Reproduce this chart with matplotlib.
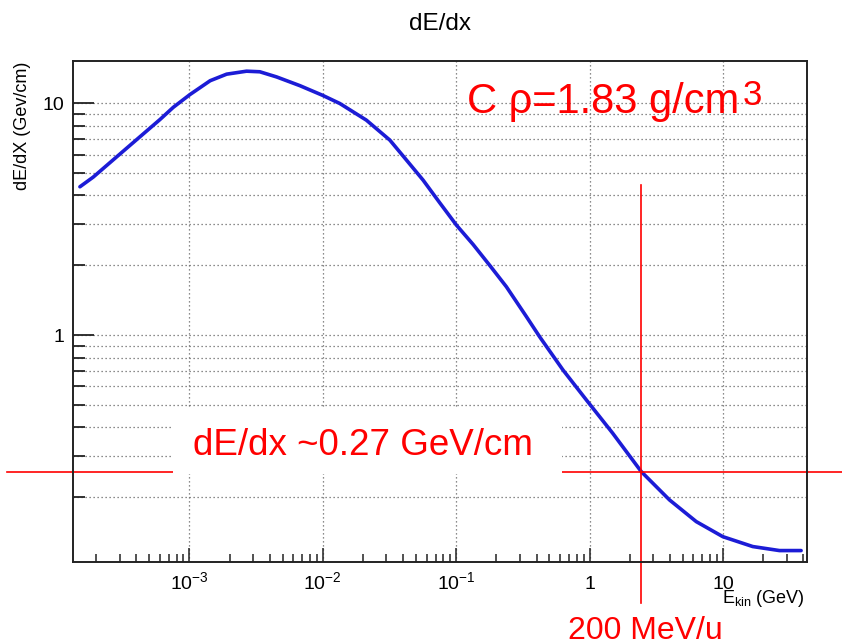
"""dE/dx of carbon (rho = 1.83 g/cm^3) versus kinetic energy, ROOT-style log-log plot."""
import matplotlib

matplotlib.use("Agg")
import matplotlib.pyplot as plt
import matplotlib.transforms as mtransforms
from matplotlib.patches import Rectangle
from matplotlib.ticker import LogLocator, NullFormatter
import numpy as np

plt.rcParams["font.family"] = ["Liberation Sans", "DejaVu Sans"]
plt.rcParams["mathtext.default"] = "regular"

# ---------------------------------------------------------------------------
# data
# ---------------------------------------------------------------------------
energy_gev = [1.51e-4, 1.90e-4, 3.39e-4, 6.01e-4, 7.57e-4, 1.01e-3, 1.43e-3,
              1.90e-3, 2.68e-3, 3.37e-3, 4.5e-3, 6.73e-3, 1.0e-2, 1.34e-2,
              2.12e-2, 3.18e-2, 4.24e-2, 5.64e-2, 7.52e-2, 0.1003, 0.1337,
              0.178, 0.2377, 0.336, 0.422, 0.631, 0.945, 1.49, 2.44, 3.97,
              6.3, 9.97, 16.7, 26.5, 38.5]
dedx_gev_cm = [4.36, 4.8, 6.4, 8.5, 9.6, 10.9, 12.5,
               13.34, 13.74, 13.66, 12.98, 11.9, 10.8, 9.97,
               8.45, 6.93, 5.68, 4.66, 3.72, 2.98, 2.46,
               2.00, 1.615, 1.20, 0.983, 0.707, 0.525, 0.377, 0.2575, 0.1945,
               0.1568, 0.135, 0.1224, 0.1176, 0.1176]

xtick_vals = [1e-3, 1e-2, 1e-1, 1, 10]
xtick_labels = ["$10^{-3}$", "$10^{-2}$", "$10^{-1}$", "1", "10"]
ytick_vals = [1, 10]
ytick_labels = ["1", "10"]

marker_energy = 2.44      # 200 MeV/u carbon -> ~2.4 GeV total
marker_dedx = 0.2575      # ~0.27 GeV/cm read-off

XLIM = (1.34e-4, 42.6)
YLIM = (0.105, 15.2)

# ---------------------------------------------------------------------------
# figure
# ---------------------------------------------------------------------------
fig = plt.figure(figsize=(8.42, 6.43), dpi=100)
ax = fig.add_axes([0.0867, 0.1260, 0.8717, 0.7791])
ax.set_xscale("log")
ax.set_yscale("log")
ax.set_xlim(*XLIM)
ax.set_ylim(*YLIM)

ax.plot(energy_gev, dedx_gev_cm, color="#1c1cd6", linewidth=2.6,
        solid_capstyle="round", solid_joinstyle="round", zorder=2.2)

# ticks + grid (ROOT look: ticks inside, only bottom/left)
ax.set_xticks(xtick_vals, xtick_labels)
ax.set_yticks(ytick_vals, ytick_labels)
ax.xaxis.set_minor_locator(LogLocator(base=10, subs=np.arange(2, 10), numticks=30))
ax.yaxis.set_minor_locator(LogLocator(base=10, subs=np.arange(2, 10), numticks=30))
ax.xaxis.set_minor_formatter(NullFormatter())
ax.yaxis.set_minor_formatter(NullFormatter())
ax.tick_params(which="both", direction="in", top=False, right=False,
               color="#222222", labelsize=14)
ax.tick_params(axis="x", which="major", length=10, width=1.1, pad=19.4)
ax.tick_params(axis="x", which="minor", length=5.8, width=1.1)
ax.tick_params(axis="y", which="major", length=15, width=1.3, pad=6)
ax.tick_params(axis="y", which="minor", length=8.5, width=1.3)
for lbl in ax.get_xticklabels():
    lbl.set_verticalalignment("baseline")

grid_kw = dict(color="#666666", linewidth=0.9, linestyle=(0, (1, 2.2)))
ax.grid(True, which="major", axis="both", **grid_kw)
ax.grid(True, which="minor", axis="y", **grid_kw)

for sp in ax.spines.values():
    sp.set_color("#222222")
    sp.set_linewidth(1.4)

# red guide lines, they run past the frame
vtrans = mtransforms.blended_transform_factory(ax.transData, ax.transAxes)
htrans = mtransforms.blended_transform_factory(ax.transAxes, ax.transData)
ax.plot([marker_energy, marker_energy], [0.7525, -0.0818], transform=vtrans,
        color="#ff0000", linewidth=1.2, clip_on=False, zorder=2.5)
ax.plot([-0.0899, 1.05], [marker_dedx, marker_dedx], transform=htrans,
        color="#ff0000", linewidth=1.2, clip_on=False, zorder=2.5)

# white patch behind the dE/dx annotation
ax.add_patch(Rectangle((0.1362, 0.1756), 0.530, 0.1298, transform=ax.transAxes,
                       facecolor="white", edgecolor="none", zorder=3))

# texts
fig.text(0.5226, 0.9533, "dE/dx", ha="center", va="baseline", fontsize=17.5)
fig.text(0.0267, 0.904, "dE/dX (Gev/cm)", rotation=90, ha="center", va="top",
         fontsize=13)
fig.text(0.956, 0.0622, "$E_{kin}$ (GeV)", ha="right", va="baseline", fontsize=13)

fig.text(0.5543, 0.8238, "C ρ=1.83 g/cm", color="#ff0000", ha="left",
         va="baseline", fontsize=30, zorder=5)
fig.text(0.8815, 0.836, "3", color="#ff0000", ha="left", va="baseline",
         fontsize=25, zorder=5)
fig.text(0.2292, 0.2924, "dE/dx ~0.27 GeV/cm", color="#ff0000", ha="left",
         va="baseline", fontsize=26.5, zorder=5)
fig.text(0.6742, 0.0065, "200 MeV/u", color="#ff0000", ha="left",
         va="baseline", fontsize=23, zorder=5)

fig.savefig("out.png", dpi=100)
plt.close(fig)
